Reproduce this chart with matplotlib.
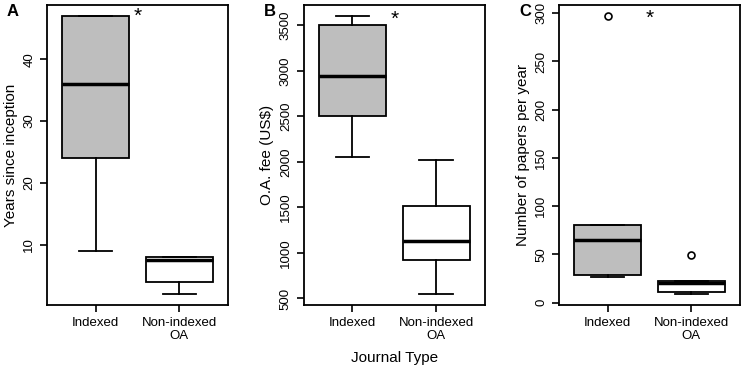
import matplotlib.pyplot as plt

plt.rcParams['font.family'] = ['Liberation Sans', 'DejaVu Sans']

groups = ['Indexed', 'Non-indexed\nOA']

# five-number summaries: whislo, q1, med, q3, whishi
years_idx = [9, 24, 36, 47, 47]
years_non = [2, 4, 7.5, 8, 8]
fee_idx = [2050, 2500, 2940, 3500, 3600]
fee_non = [550, 920, 1130, 1520, 2020]
papers_idx = [26, 29, 65, 80, 80]
papers_non = [9, 11, 20.5, 22, 22]
papers_idx_out = [297]
papers_non_out = [49]

ylabels = ['Years since inception', 'O.A. fee (US$)', 'Number of papers per year']
panel_letters = ['A', 'B', 'C']
yticks = [[10, 20, 30, 40], list(range(500, 3501, 500)), list(range(0, 301, 50))]
star_ys = [47, 3560, 295]


def stats(v, fl=()):
    return dict(whislo=v[0], q1=v[1], med=v[2], q3=v[3], whishi=v[4], fliers=list(fl))


panels = [
    [stats(years_idx), stats(years_non)],
    [stats(fee_idx), stats(fee_non)],
    [stats(papers_idx, papers_idx_out), stats(papers_non, papers_non_out)],
]

fig = plt.figure(figsize=(7.43, 3.70), dpi=100)
lefts = [47, 303.7, 559]
width = 181
bottom = 1 - 305 / 370
height = 300 / 370

for i, st in enumerate(panels):
    ax = fig.add_axes([lefts[i] / 743, bottom, width / 743, height])
    ax.bxp(st, positions=[1, 2], widths=0.8, patch_artist=True,
           boxprops=dict(edgecolor='black', linewidth=1.3),
           medianprops=dict(color='black', linewidth=2.5),
           whiskerprops=dict(color='black', linewidth=1.3, linestyle='-'),
           capprops=dict(color='black', linewidth=1.3),
           flierprops=dict(marker='o', markerfacecolor='none', markeredgecolor='black',
                           markersize=5, markeredgewidth=1.2),
           capwidths=0.4)
    # indexed box gray, non-indexed white
    for j, p in enumerate(ax.patches):
        p.set_facecolor('#bebebe' if j == 0 else 'white')

    lo = min(s['whislo'] for s in st)
    hi = max([s['whishi'] for s in st] + [f for s in st for f in s['fliers']])
    pad = (hi - lo) * 0.04
    ax.set_ylim(lo - pad, hi + pad)
    ax.set_xlim(0.42, 2.58)
    ax.set_yticks(yticks[i])
    ax.set_xticks([1, 2])
    ax.set_xticklabels(groups, fontsize=9.5, linespacing=1.1)
    ax.tick_params(axis='y', labelrotation=90, labelsize=9.5)
    ax.tick_params(direction='out', length=5, width=1.2)
    for t in ax.get_yticklabels():
        t.set_va('center')
    for sp in ax.spines.values():
        sp.set_linewidth(1.3)
    ax.set_ylabel(ylabels[i], fontsize=11)
    ax.text(1.5, star_ys[i], '*', fontsize=15, ha='center', va='center')
    fig.text((lefts[i] - 34) / 743, 1 - 12 / 370, panel_letters[i], fontsize=12,
             fontweight='bold', ha='center', va='center')
    if i == 1:
        ax.set_xlabel('Journal Type', fontsize=11, labelpad=7)

fig.savefig('out.png', dpi=100)
